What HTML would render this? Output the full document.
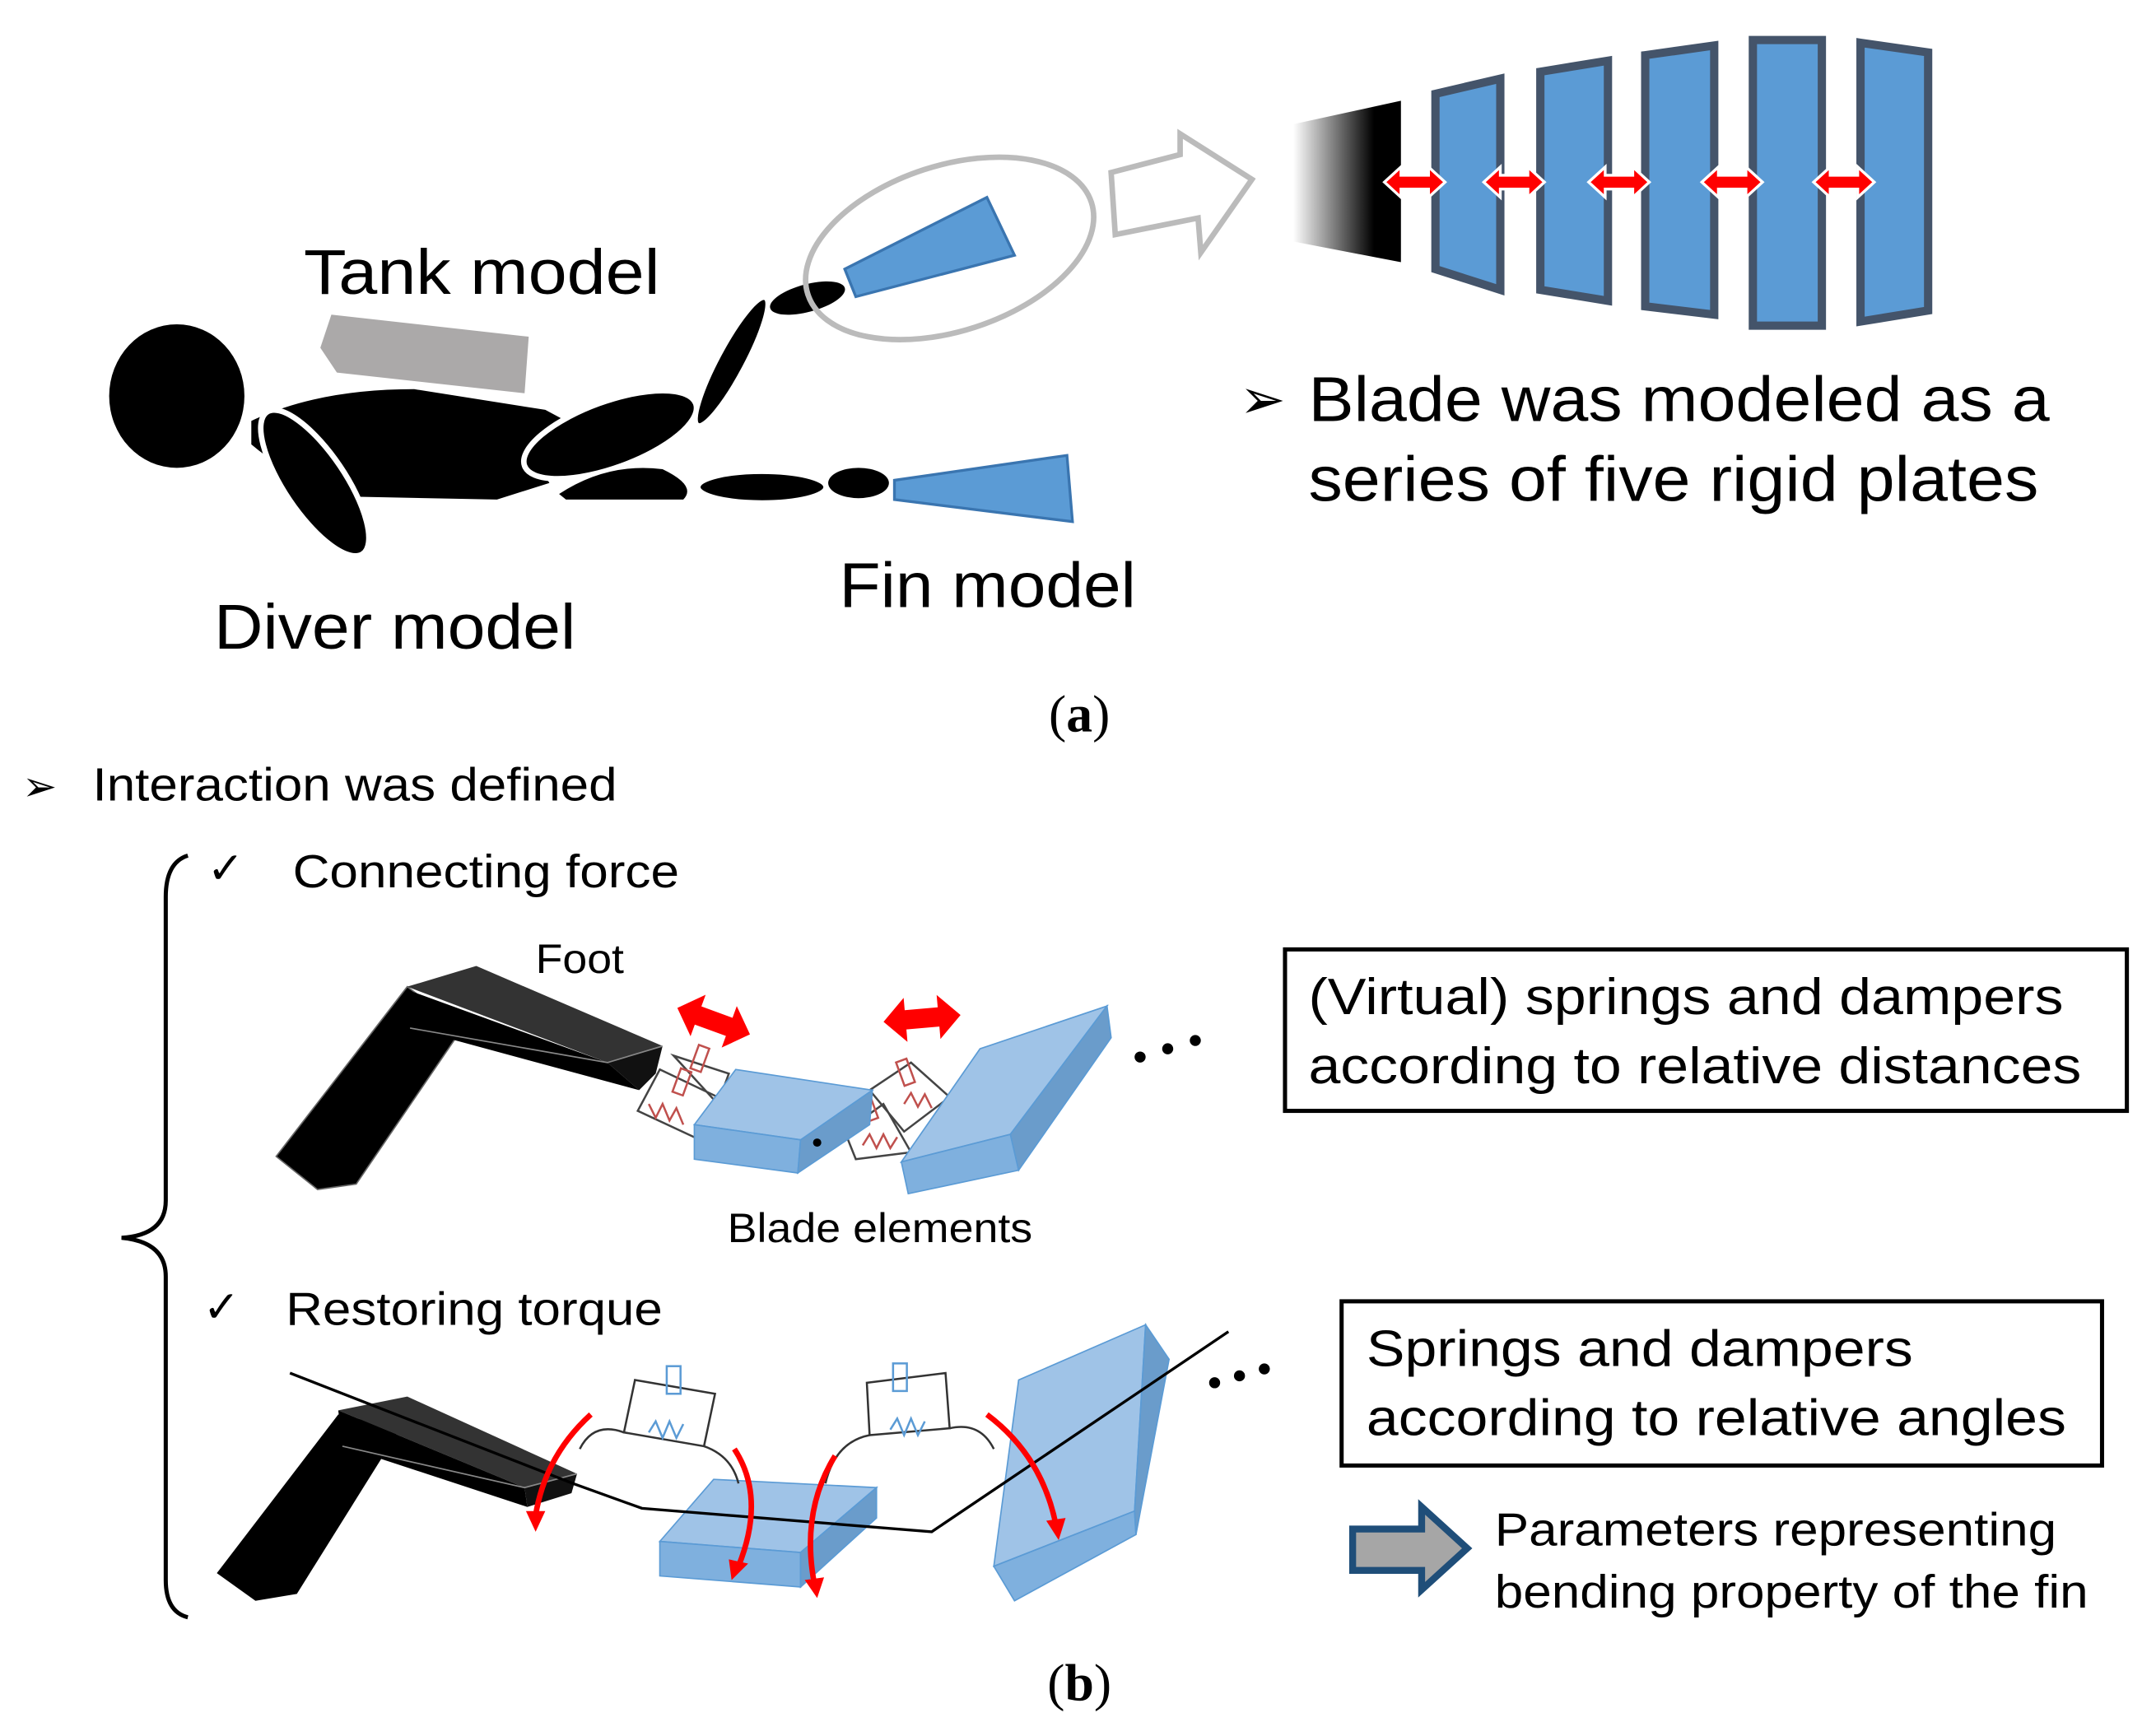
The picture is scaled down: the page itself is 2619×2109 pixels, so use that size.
<!DOCTYPE html>
<html><head><meta charset="utf-8"><style>
html,body{margin:0;padding:0;background:#fff;}
svg{display:block;}
text{font-family:"Liberation Sans",sans-serif;fill:#000;}
.serif{font-family:"Liberation Serif",serif;}
</style></head><body>
<svg width="2619" height="2109" viewBox="0 0 1562 1258" xmlns="http://www.w3.org/2000/svg">
<defs>
<linearGradient id="g1" x1="0" x2="1" y1="0" y2="0"><stop offset="0" stop-color="#fff"/><stop offset="0.75" stop-color="#000"/></linearGradient>
<g id="dbl"><polygon points="-22,0 -10,-11 -10,-5 10,-5 10,-11 22,0 10,11 10,5 -10,5 -10,11" fill="#f00" stroke="#fff" stroke-width="2"/></g>
<g id="bigdbl"><polygon points="-28,0 -12,-16 -12,-7 12,-7 12,-16 28,0 12,16 12,7 -12,7 -12,16" fill="#f00"/></g>
</defs>
<rect width="1562" height="1258" fill="#fff"/>

<!-- Diver -->
<ellipse cx="128" cy="287" rx="49" ry="52" fill="#000"/>
<polygon points="240,228 383,244 380,285 244,270 232,252" fill="#aba9a9"/>
<path d="M182,305 Q230,282 300,282 L395,297 L410,305 Q385,330 398,350 L360,362 L260,360 Q215,350 182,322 Z" fill="#000"/>
<ellipse cx="228" cy="350" rx="62" ry="22" transform="rotate(56 228 350)" fill="#000" stroke="#fff" stroke-width="4"/>
<ellipse cx="442" cy="315" rx="66" ry="24" transform="rotate(-20 442 315)" fill="#000" stroke="#fff" stroke-width="4"/>
<ellipse cx="530" cy="262" rx="52" ry="10" transform="rotate(-62 530 262)" fill="#000" stroke="#fff" stroke-width="3"/>
<ellipse cx="585" cy="216" rx="28" ry="10" transform="rotate(-15 585 216)" fill="#000"/>
<polygon points="612,195 715,143 735,185 620,215" fill="#5b9bd5" stroke="#3a75b0" stroke-width="2"/>
<path d="M405,358 Q440,335 480,340 Q505,352 495,362 L410,362 Z" fill="#000"/>
<ellipse cx="552" cy="353" rx="46" ry="11" fill="#000" stroke="#fff" stroke-width="3"/>
<ellipse cx="622" cy="350" rx="22" ry="11" fill="#000"/>
<polygon points="648,348 773,330 777,378 648,362" fill="#5b9bd5" stroke="#3a75b0" stroke-width="2"/>
<ellipse cx="688" cy="180" rx="108" ry="60" transform="rotate(-18 688 180)" fill="none" stroke="#bbb" stroke-width="4"/>
<polygon points="805,125 855,112 855,97 907,130 870,183 868,158 808,170" fill="#fff" stroke="#bbb" stroke-width="4"/>

<!-- Plates -->
<polygon points="937,90 1015,73 1015,190 937,175" fill="url(#g1)"/>
<g fill="#5b9bd5" stroke="#44546a" stroke-width="6">
<polygon points="1040,68 1087,57 1087,210 1040,195"/>
<polygon points="1116,52 1165,44 1165,218 1116,210"/>
<polygon points="1192,40 1242,33 1242,228 1192,222"/>
<polygon points="1270,29 1320,29 1320,236 1270,236"/>
<polygon points="1348,31 1397,38 1397,225 1348,233"/>
</g>
<use href="#dbl" x="1025" y="132"/><use href="#dbl" x="1097" y="132"/><use href="#dbl" x="1173" y="132"/><use href="#dbl" x="1255" y="132"/><use href="#dbl" x="1336" y="132"/>

<text x="220" y="213" font-size="46" textLength="258" lengthAdjust="spacingAndGlyphs">Tank model</text>
<text x="155" y="470" font-size="46" textLength="262" lengthAdjust="spacingAndGlyphs">Diver model</text>
<text x="608" y="440" font-size="46" textLength="215" lengthAdjust="spacingAndGlyphs">Fin model</text>
<text x="898" y="303" font-size="40">➢</text>
<text x="948" y="305" font-size="46" textLength="537" lengthAdjust="spacingAndGlyphs">Blade was modeled as a</text>
<text x="948" y="363" font-size="46" textLength="529" lengthAdjust="spacingAndGlyphs">series of five rigid plates</text>
<text x="782" y="530" font-size="38" class="serif" text-anchor="middle">(<tspan font-weight="bold">a</tspan>)</text>

<!-- Part b -->
<text x="16" y="580" font-size="30">➢</text>
<text x="67" y="580" font-size="34" textLength="380" lengthAdjust="spacingAndGlyphs">Interaction was defined</text>
<path d="M136,620 Q120,625 120,650 L120,870 Q120,895 88,897 Q120,900 120,925 L120,1145 Q120,1168 136,1172" fill="none" stroke="#000" stroke-width="3"/>
<text x="150" y="640" font-size="32">✓</text>
<text x="212" y="643" font-size="34" textLength="280" lengthAdjust="spacingAndGlyphs">Connecting force</text>
<text x="388" y="705" font-size="30" textLength="64" lengthAdjust="spacingAndGlyphs">Foot</text>

<!-- black L top -->
<polygon points="200,838 295,715 335,745 258,858 230,862" fill="#000" stroke="#666" stroke-width="1"/>
<polygon points="295,715 345,700 480,758 440,770" fill="#333"/>
<polygon points="297,718 440,770 463,790 297,745" fill="#000"/>
<polygon points="440,770 480,758 475,778 463,790" fill="#111"/>
<polyline points="297,745 440,770 480,758" fill="none" stroke="#888" stroke-width="1"/>

<!-- springs top -->
<g fill="none" stroke="#444" stroke-width="1.5">
<polygon points="478,775 520,795 505,825 462,805"/>
<polygon points="488,765 528,778 520,800"/>
<polygon points="630,790 660,770 688,795 655,820"/>
<polygon points="612,820 640,800 660,835 620,840"/>
</g>
<g fill="none" stroke="#c0504d" stroke-width="1.5">
<rect x="503" y="758" width="8" height="18" transform="rotate(20 507 767)"/>
<rect x="490" y="775" width="8" height="18" transform="rotate(20 494 784)"/>
<rect x="652" y="768" width="8" height="18" transform="rotate(-20 656 777)"/>
<rect x="625" y="792" width="8" height="20" transform="rotate(-20 629 802)"/>
<polyline points="470,800 475,810 480,800 485,812 490,803 495,815"/>
<polyline points="625,830 630,822 635,832 640,822 645,832 650,824"/>
<polyline points="655,800 660,792 665,802 670,793 675,803"/>
</g>
<!-- blue box 1 -->
<polygon points="503,815 533,775 632,790 580,826" fill="#9fc3e7" stroke="#5b9bd5" stroke-width="1"/>
<polygon points="503,815 580,826 578,850 503,840" fill="#7fb0de" stroke="#5b9bd5" stroke-width="1"/>
<polygon points="580,826 632,790 630,815 578,850" fill="#6a9ccb" stroke="#5b9bd5" stroke-width="1"/>
<!-- blue slab 2 -->
<polygon points="653,842 710,760 802,729 732,822" fill="#9fc3e7" stroke="#5b9bd5" stroke-width="1"/>
<polygon points="653,842 732,822 738,848 658,865" fill="#7fb0de" stroke="#5b9bd5" stroke-width="1"/>
<polygon points="732,822 802,729 805,752 738,848" fill="#6a9ccb" stroke="#5b9bd5" stroke-width="1"/>
<circle cx="592" cy="828" r="3"/>
<use href="#bigdbl" transform="translate(517,740) rotate(20)"/>
<use href="#bigdbl" transform="translate(668,738) rotate(-5)"/>
<circle cx="826" cy="766" r="4"/><circle cx="846" cy="760" r="4"/><circle cx="866" cy="754" r="4"/>
<text x="527" y="900" font-size="30" textLength="221" lengthAdjust="spacingAndGlyphs">Blade elements</text>
<rect x="931" y="688" width="610" height="117" fill="none" stroke="#000" stroke-width="3"/>
<text x="948" y="735" font-size="37" textLength="547" lengthAdjust="spacingAndGlyphs">(Virtual) springs and dampers</text>
<text x="948" y="785" font-size="37" textLength="560" lengthAdjust="spacingAndGlyphs">according to relative distances</text>

<text x="147" y="958" font-size="32">✓</text>
<text x="207" y="960" font-size="34" textLength="273" lengthAdjust="spacingAndGlyphs">Restoring torque</text>

<!-- black L bottom -->
<polygon points="157,1140 245,1025 290,1035 215,1155 185,1160" fill="#000"/>
<polygon points="245,1022 295,1012 418,1068 380,1078" fill="#333"/>
<polygon points="245,1022 380,1078 382,1092 248,1048" fill="#000"/>
<polygon points="380,1078 418,1068 414,1082 382,1092" fill="#111"/>
<polyline points="248,1048 380,1078 418,1068" fill="none" stroke="#888" stroke-width="1"/>
<!-- blue box 3 -->
<polygon points="478,1117 517,1072 635,1078 580,1125" fill="#9fc3e7" stroke="#5b9bd5" stroke-width="1"/>
<polygon points="478,1117 580,1125 580,1150 478,1142" fill="#7fb0de" stroke="#5b9bd5" stroke-width="1"/>
<polygon points="580,1125 635,1078 635,1100 580,1150" fill="#6a9ccb" stroke="#5b9bd5" stroke-width="1"/>
<!-- slab 4 -->
<polygon points="720,1135 738,1000 830,960 822,1095" fill="#9fc3e7" stroke="#5b9bd5" stroke-width="1"/>
<polygon points="720,1135 822,1095 823,1112 735,1160" fill="#7fb0de" stroke="#5b9bd5" stroke-width="1"/>
<polygon points="822,1095 830,960 847,985 823,1112" fill="#6a9ccb" stroke="#5b9bd5" stroke-width="1"/>
<polyline points="210,995 415,1075 465,1093 675,1110 890,965" fill="none" stroke="#000" stroke-width="2"/>
<!-- blue springs -->
<g fill="none" stroke="#333" stroke-width="1.5">
<polygon points="460,1000 518,1010 510,1048 452,1038"/>
<polygon points="628,1002 685,995 688,1035 630,1040"/>
<path d="M452,1038 Q430,1030 420,1050"/><path d="M510,1048 Q530,1055 535,1075"/>
<path d="M630,1040 Q605,1045 598,1075"/><path d="M688,1035 Q710,1030 720,1050"/>
</g>
<g fill="none" stroke="#5b9bd5" stroke-width="1.5">
<rect x="483" y="990" width="10" height="20"/>
<rect x="647" y="988" width="10" height="20"/>
<polyline points="470,1038 475,1030 480,1042 485,1030 490,1042 495,1032"/>
<polyline points="645,1036 650,1028 655,1040 660,1028 665,1040 670,1030"/>
</g>
<!-- red curved arrows -->
<g fill="none" stroke="#f00" stroke-width="4">
<path d="M428,1025 Q395,1055 388,1098"/>
<path d="M532,1050 Q555,1085 535,1135"/>
<path d="M605,1055 Q580,1095 590,1148"/>
<path d="M715,1025 Q755,1055 765,1105"/>
</g>
<g fill="#f00">
<polygon points="381,1095 395,1095 388,1110"/>
<polygon points="528,1130 542,1133 530,1145"/>
<polygon points="583,1145 597,1143 592,1158"/>
<polygon points="758,1102 772,1100 767,1116"/>
</g>
<circle cx="880" cy="1002" r="4"/><circle cx="898" cy="997" r="4"/><circle cx="916" cy="992" r="4"/>
<rect x="972" y="943" width="551" height="119" fill="none" stroke="#000" stroke-width="3"/>
<text x="990" y="990" font-size="37" textLength="396" lengthAdjust="spacingAndGlyphs">Springs and dampers</text>
<text x="990" y="1040" font-size="37" textLength="507" lengthAdjust="spacingAndGlyphs">according to relative angles</text>
<polygon points="980,1108 1030,1108 1030,1092 1063,1122 1030,1152 1030,1138 980,1138" fill="#a6a6a6" stroke="#1f4e79" stroke-width="5"/>
<text x="1083" y="1120" font-size="34" textLength="407" lengthAdjust="spacingAndGlyphs">Parameters representing</text>
<text x="1083" y="1165" font-size="34" textLength="430" lengthAdjust="spacingAndGlyphs">bending property of the fin</text>
<text x="782" y="1232" font-size="38" class="serif" text-anchor="middle">(<tspan font-weight="bold">b</tspan>)</text>
</svg>
</body></html>
